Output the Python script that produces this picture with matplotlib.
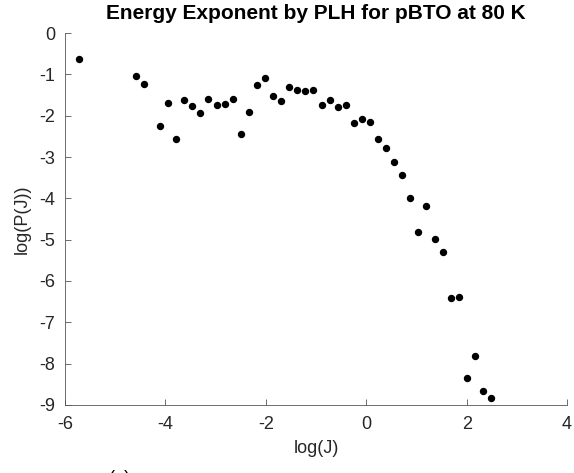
import matplotlib.pyplot as plt

log_j = [-5.72, -4.59, -4.43, -4.11, -3.95, -3.79, -3.63, -3.47, -3.31, -3.15,
         -2.98, -2.82, -2.66, -2.50, -2.34, -2.18, -2.02, -1.85, -1.69, -1.53,
         -1.37, -1.21, -1.06, -0.89, -0.73, -0.57, -0.41, -0.25, -0.09, 0.07,
         0.23, 0.40, 0.56, 0.72, 0.88, 1.04, 1.20, 1.36, 1.52, 1.68,
         1.85, 2.01, 2.17, 2.32, 2.48]
log_pj = [-0.63, -1.05, -1.22, -2.24, -1.70, -2.56, -1.62, -1.77, -1.93, -1.59,
          -1.75, -1.72, -1.59, -2.45, -1.92, -1.26, -1.09, -1.53, -1.64, -1.30,
          -1.37, -1.40, -1.38, -1.74, -1.61, -1.80, -1.74, -2.18, -2.09, -2.15,
          -2.57, -2.79, -3.12, -3.43, -3.99, -4.81, -4.19, -4.98, -5.29, -6.41,
          -6.38, -8.35, -7.82, -8.67, -8.83]

plt.rcParams['font.family'] = ['Liberation Sans', 'DejaVu Sans']
plt.rcParams['axes.unicode_minus'] = False

fig = plt.figure(figsize=(5.74, 4.73), dpi=100)
ax = fig.add_axes([0.113, 0.144, 0.875, 0.786])

ax.plot(log_j, log_pj, 'o', color='black', markersize=4.3)

ax.set_xlim(-6, 4)
ax.set_ylim(-9, 0)
ax.set_xticks(range(-6, 5, 2))
ax.set_yticks(range(-9, 1))
ax.tick_params(direction='in', length=4, labelsize=13, colors='#555555',
               labelcolor='#262626', width=0.6)
ax.tick_params(axis='y', pad=7)
ax.tick_params(axis='x', pad=8)
for s in ['top', 'right']:
    ax.spines[s].set_visible(False)
for s in ['left', 'bottom']:
    ax.spines[s].set_color('#555555')
    ax.spines[s].set_linewidth(0.6)

ax.set_xlabel('log(J)', fontsize=13, color='#262626', labelpad=5)
ax.set_ylabel('log(P(J))', fontsize=13, color='#262626', labelpad=6)
ax.set_title('Energy Exponent by PLH for pBTO at 80 K', fontsize=15, fontweight='bold', pad=10)

# panel label, only its top edge shows at the bottom of the image
fig.text(0.19, -0.012, '(a)', fontsize=13, va='center', ha='left')

fig.savefig('out.png', dpi=100)
